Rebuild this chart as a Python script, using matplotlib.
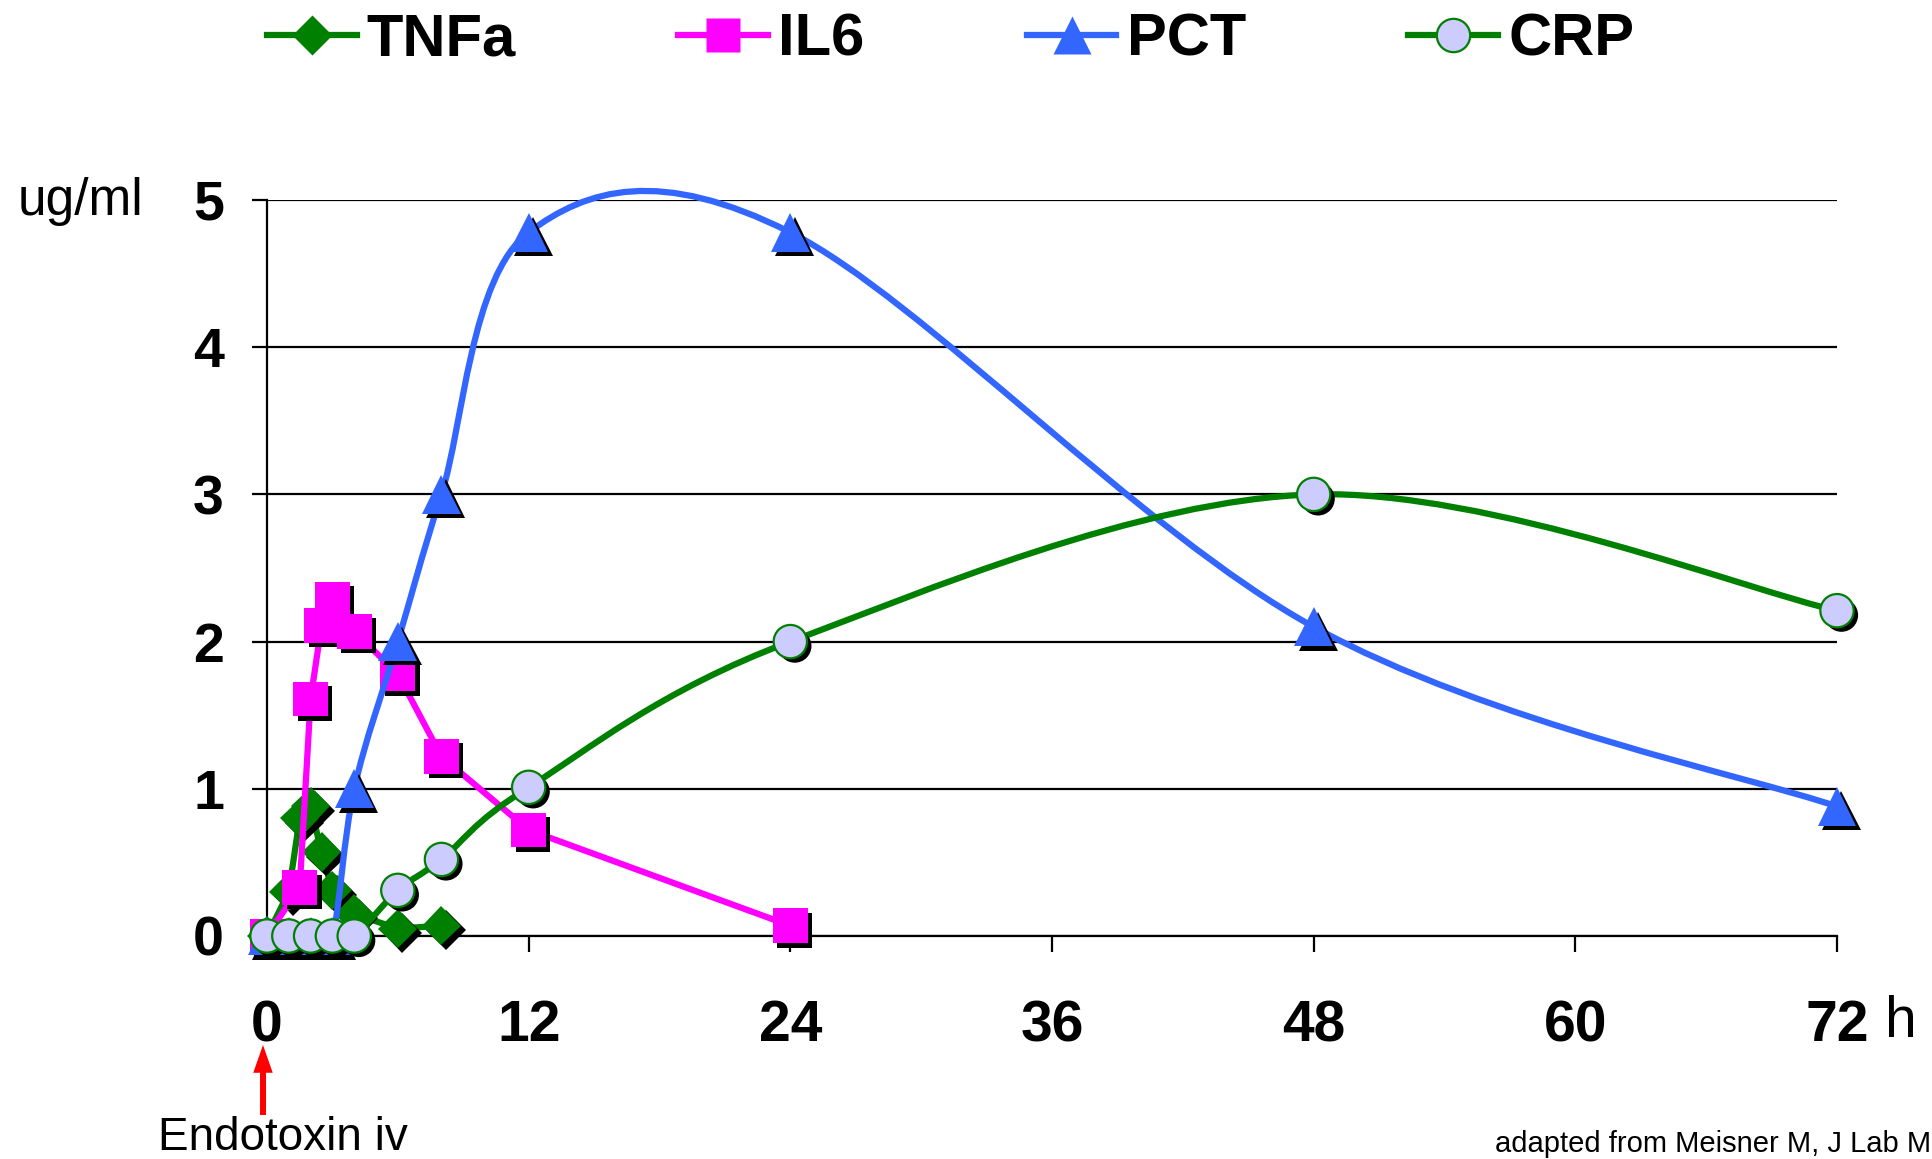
import matplotlib
matplotlib.use("Agg")
import matplotlib.pyplot as plt
import matplotlib.patheffects as pe
from matplotlib.lines import Line2D
from matplotlib.path import Path
from matplotlib.patches import PathPatch

plt.rcParams["font.family"] = ["Liberation Sans", "DejaVu Sans"]

# values (hours after endotoxin, ug/ml)
tnfa_hours = [0, 1, 1.5, 2, 2.5, 3, 4, 6, 8]
tnfa_values = [0, 0.3, 0.8, 0.88, 0.57, 0.31, 0.15, 0.05, 0.07]
il6_hours = [0, 1.5, 2, 2.5, 3, 4, 6, 8, 12, 24]
il6_values = [0, 0.33, 1.61, 2.11, 2.29, 2.07, 1.78, 1.22, 0.72, 0.07]
pct_hours = [0, 1, 2, 3, 4, 6, 8, 12, 24, 48, 72]
pct_values = [0, 0, 0, 0, 1.0, 2.0, 3.0, 4.78, 4.78, 2.1, 0.88]
crp_hours = [0, 1, 2, 3, 4, 6, 8, 12, 24, 48, 72]
crp_values = [0, 0, 0, 0, 0, 0.31, 0.52, 1.01, 2.0, 3.0, 2.21]

x_ticks = [0, 12, 24, 36, 48, 60, 72]
y_ticks = [0, 1, 2, 3, 4, 5]

GREEN = "#008000"
MAGENTA = "#FF00FF"
BLUE = "#3366FF"
LAVENDER = "#CCCCFF"
LW = 4.5

shadow = [pe.SimplePatchShadow(offset=(3.2, -3.2), shadow_rgbFace=(0, 0, 0), alpha=1.0), pe.Normal()]


def smooth_path(xs, ys):
    # Excel-style smoothed line: cubic Bezier segments through the points
    pts = list(zip(xs, ys))
    n = len(pts)
    verts = [pts[0]]
    codes = [Path.MOVETO]
    for i in range(n - 1):
        p0 = pts[max(i - 1, 0)]
        p1 = pts[i]
        p2 = pts[i + 1]
        p3 = pts[min(i + 2, n - 1)]
        c1 = (p1[0] + (p2[0] - p0[0]) / 6, p1[1] + (p2[1] - p0[1]) / 6)
        c2 = (p2[0] - (p3[0] - p1[0]) / 6, p2[1] - (p3[1] - p1[1]) / 6)
        verts += [c1, c2, p2]
        codes += [Path.CURVE4] * 3
    return Path(verts, codes)


fig = plt.figure(figsize=(19.32, 11.59), dpi=100)
ax = fig.add_axes([267 / 1932, 1 - 936 / 1159, 1570 / 1932, 736 / 1159])
ax.set_xlim(0, 72)
ax.set_ylim(0, 5)

# TNFa
ax.plot(tnfa_hours, tnfa_values, color=GREEN, lw=LW, zorder=3, clip_on=False)
ax.plot(tnfa_hours, tnfa_values, ls="none", marker="D", ms=20, mfc=GREEN, mec="none",
        zorder=3.1, clip_on=False, path_effects=shadow)

# IL6
ax.plot(il6_hours, il6_values, color=MAGENTA, lw=LW, zorder=4, clip_on=False)
ax.plot(il6_hours, il6_values, ls="none", marker="s", ms=25, mfc=MAGENTA, mec="none",
        zorder=4.1, clip_on=False, path_effects=shadow)

# PCT (smoothed)
pct_line = PathPatch(smooth_path(pct_hours, pct_values), facecolor="none", edgecolor=BLUE,
                     lw=LW, zorder=5, clip_on=False, capstyle="round", joinstyle="round")
ax.add_patch(pct_line)
ax.plot(pct_hours, pct_values, ls="none", marker="^", ms=28, mfc=BLUE, mec="none",
        zorder=5.1, clip_on=False, path_effects=shadow)

# CRP (smoothed)
crp_line = PathPatch(smooth_path(crp_hours, crp_values), facecolor="none", edgecolor=GREEN,
                     lw=LW, zorder=6, clip_on=False, capstyle="round", joinstyle="round")
ax.add_patch(crp_line)
ax.plot(crp_hours, crp_values, ls="none", marker="o", ms=24, mfc=LAVENDER, mec=GREEN, mew=1.6,
        zorder=6.1, clip_on=False, path_effects=shadow)

ax.set_xticks(x_ticks)
ax.set_yticks(y_ticks)
ax.yaxis.grid(True, color="black", lw=1.6)
ax.set_axisbelow(True)
ax.spines["top"].set_visible(False)
ax.spines["right"].set_visible(False)
ax.spines["left"].set_linewidth(1.6)
ax.spines["bottom"].set_linewidth(1.6)
ax.tick_params(axis="y", direction="out", length=11, width=1.6, pad=20, labelsize=40)
ax.tick_params(axis="x", direction="out", length=11.5, width=1.6, pad=34, labelsize=41)
for label in ax.get_xticklabels() + ax.get_yticklabels():
    label.set_fontweight("bold")

fig.text(1885 / 1932, 1 - 1022 / 1159, "h", fontsize=41, va="center", ha="left")
fig.text(18 / 1932, 1 - 215 / 1159, "ug/ml", fontsize=37, va="baseline", ha="left")
fig.text(158 / 1932, 1 - 1150 / 1159, "Endotoxin iv", fontsize=33, va="baseline", ha="left")
fig.text(1931 / 1932, 1 - 1152 / 1159, "adapted from Meisner M, J Lab M", fontsize=21,
         va="baseline", ha="right")

ax.annotate("", xy=(263 / 1932, 1 - 1045 / 1159), xytext=(263 / 1932, 1 - 1115 / 1159),
            xycoords="figure fraction", textcoords="figure fraction",
            arrowprops=dict(facecolor="red", edgecolor="none", width=4.3, headwidth=14,
                            headlength=20, shrink=0))

handles = [
    Line2D([], [], color=GREEN, lw=LW, marker="D", ms=20, mfc=GREEN, mec="none"),
    Line2D([], [], color=MAGENTA, lw=LW, marker="s", ms=25, mfc=MAGENTA, mec="none"),
    Line2D([], [], color=BLUE, lw=LW, marker="^", ms=28, mfc=BLUE, mec="none"),
    Line2D([], [], color=GREEN, lw=LW, marker="o", ms=24, mfc=LAVENDER, mec=GREEN, mew=1.6),
]
legend = fig.legend(handles, ["TNFa", "IL6", "PCT", "CRP"], loc="center left",
                    bbox_to_anchor=(267 / 1932, 1 - 40 / 1159), ncol=4, frameon=False,
                    borderpad=0, borderaxespad=0, handlelength=1.5, handletextpad=0.17,
                    columnspacing=2.72, prop={"size": 43, "weight": "bold"})

fig.savefig("out.png", dpi=100)
